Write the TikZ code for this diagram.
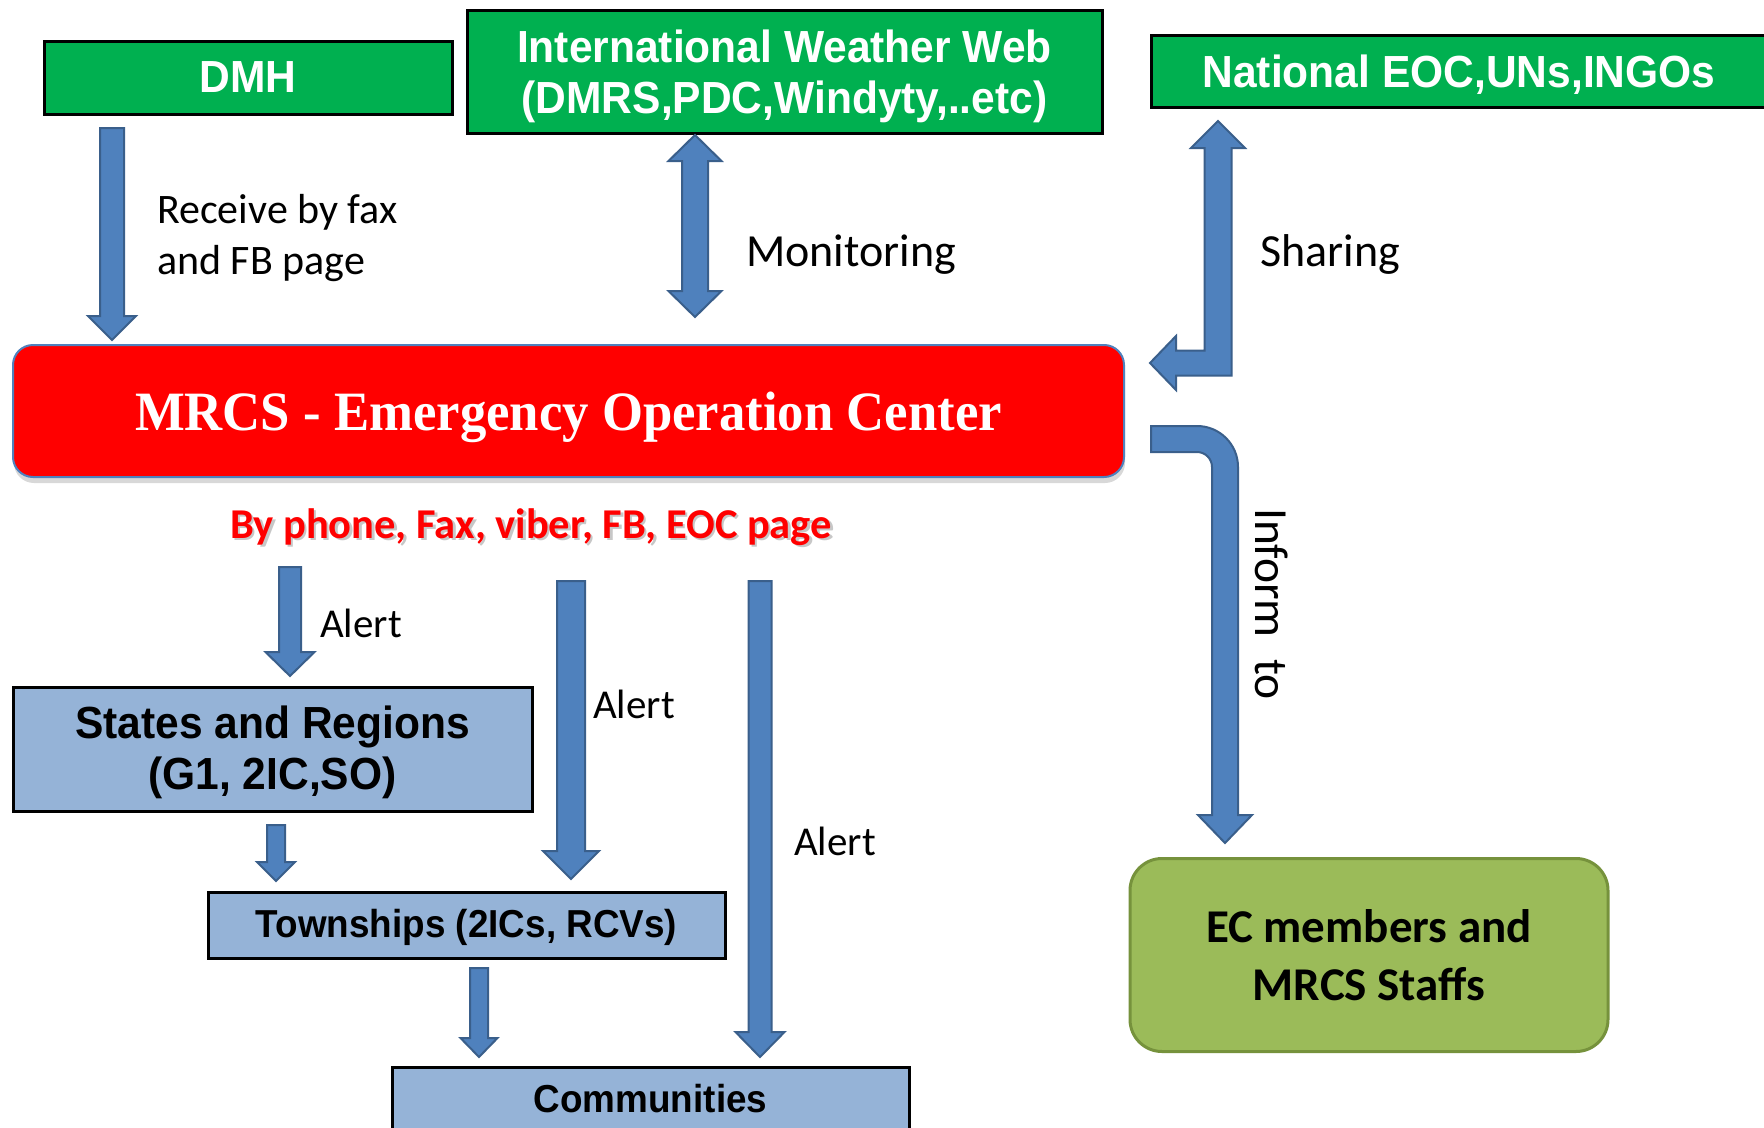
\documentclass[tikz,border=0pt]{standalone}
\usepackage{fontspec}
\setmainfont{Carlito}
\newfontfamily\arialfont{Liberation Sans}[FakeStretch=0.945]
\newfontfamily\timesfont{Liberation Serif}[FakeStretch=0.95]
\usetikzlibrary{calc,shadows}
\definecolor{boxgreen}{HTML}{00B050}
\definecolor{boxblue}{HTML}{95B3D7}
\definecolor{arrowfill}{HTML}{4F81BD}
\definecolor{arrowline}{HTML}{3A5F8B}
\definecolor{ecfill}{HTML}{9BBB59}
\definecolor{ecline}{HTML}{76923C}
\definecolor{eocred}{HTML}{FF0000}
\definecolor{eocline}{HTML}{4F81BD}
\newcommand\fsz[2]{\fontsize{#1}{#2}\selectfont}
\newcommand\vblockarrow[5]{\draw[blockarrow] let \p1=(#1), \p2=(#2) in
  (\x1-#3pt,\y1) -- (\x1+#3pt,\y1) -- (\x1+#3pt,\y2+#5pt) -- (\x1+#4pt,\y2+#5pt)
  -- (\x1,\y2) -- (\x1-#4pt,\y2+#5pt) -- (\x1-#3pt,\y2+#5pt) -- cycle;}
\newcommand\vdoubleblock[5]{\draw[blockarrow] let \p1=(#1), \p2=(#2) in
  (\x1,\y1) -- (\x1+#4pt,\y1-#5pt) -- (\x1+#3pt,\y1-#5pt) -- (\x1+#3pt,\y2+#5pt)
  -- (\x1+#4pt,\y2+#5pt) -- (\x1,\y2) -- (\x1-#4pt,\y2+#5pt) -- (\x1-#3pt,\y2+#5pt)
  -- (\x1-#3pt,\y1-#5pt) -- (\x1-#4pt,\y1-#5pt) -- cycle;}
\tikzset{
  greenbox/.style={draw=black, line width=3pt, fill=boxgreen, text=white,
    font=\arialfont\bfseries\fsz{45}{51}, align=center, inner sep=0pt},
  bluebox/.style={draw=black, line width=3pt, fill=boxblue, text=black,
    font=\arialfont\bfseries\fsz{45}{51}, align=center, inner sep=0pt},
  eocbox/.style={draw=eocline, line width=2pt, fill=eocred, text=white,
    rounded corners=20pt, font=\timesfont\bfseries\fsz{55.5}{60}, inner sep=0pt,
    drop shadow={opacity=0.3, shadow xshift=1pt, shadow yshift=-6pt}},
  ecbox/.style={draw=ecline, line width=3pt, fill=ecfill, text=black,
    rounded corners=32pt, font=\bfseries\fsz{47}{58}, align=center, inner sep=0pt},
  lbl/.style={font=\fsz{42}{51}, text=black, inner sep=0pt, align=left},
  blockarrow/.style={fill=arrowfill, draw=arrowline, line width=2pt, line join=miter}
}
\begin{document}
\begin{tikzpicture}[x=1pt,y=-1pt]
\useasboundingbox (0,0) rectangle (1764,1127);
\clip (0,0) rectangle (1764,1127);
\fill[white] (0,0) rectangle (1764,1127);

% boxes
\node[greenbox, minimum width=408, minimum height=73] (dmh) at (248,77.5) {DMH};
\node[greenbox, text depth=0pt, minimum width=635, minimum height=123] (iww) at (784.5,71.5)
  {International Weather Web\\(DMRS,PDC,Windyty,..etc)};
\node[greenbox, text depth=0pt, minimum width=616, minimum height=72] (nat) at (1459,71) {National EOC,UNs,INGOs};
\node[eocbox, text depth=0pt, minimum width=1111, minimum height=132] (eoc) at (568.5,411)
  {MRCS - Emergency Operation Center};
\node[font=\bfseries\fsz{42.5}{50}, text=black, opacity=0.22, inner sep=0pt] (viashadow) at (533.5,529.5)
  {By phone, Fax, viber, FB, EOC page};
\node[font=\bfseries\fsz{42.5}{50}, text=eocred, inner sep=0pt] (via) at (531,527)
  {By phone, Fax, viber, FB, EOC page};
\node[bluebox, text depth=3pt, minimum width=519, minimum height=124] (states) at (272.5,749)
  {States and Regions\\(G1, 2IC,SO)};
\node[bluebox, text depth=4pt, font=\arialfont\bfseries\fsz{39}{44}, minimum width=517, minimum height=66] (town) at (466.5,925)
  {Townships (2ICs, RCVs)};
\node[bluebox, font=\arialfont\bfseries\fsz{39}{44}, minimum width=517, minimum height=64] (comm) at (650.5,1099)
  {Communities};
\node[ecbox, minimum width=478, minimum height=193] (ec) at (1369,955)
  {EC members and\\MRCS Staffs};

% labels
\node[lbl, anchor=west] (lrecv) at (157,238) {Receive by fax\\and FB page};
\node[lbl, font=\fsz{46}{55}, anchor=west] (lmon) at (746,255) {Monitoring};
\node[lbl, font=\fsz{46}{55}, anchor=west] (lshare) at (1260,254) {Sharing};
\node[lbl, font=\fsz{47.5}{55}, rotate=-90] (linform) at (1272,604) {Inform\ \ to};
\node[lbl, font=\fsz{41}{50}, anchor=west] (lalert1) at (320,623) {Alert};
\node[lbl, font=\fsz{41}{50}, anchor=west] (lalert2) at (593,704) {Alert};
\node[lbl, font=\fsz{41}{50}, anchor=west] (lalert3) at (794,841) {Alert};

% arrow end points
\coordinate (dmhA) at (112,128);   \coordinate (dmhB) at (112,340);
\coordinate (monA) at (695,135);   \coordinate (monB) at (695,317);
\coordinate (shA) at (1218,121);   \coordinate (shB) at (1150,363);
\coordinate (infA) at (1151,439);  \coordinate (infB) at (1225,843);
\coordinate (al1A) at (290,567);   \coordinate (al1B) at (290,676);
\coordinate (al2A) at (571,581);   \coordinate (al2B) at (571,879);
\coordinate (al3A) at (760,581);   \coordinate (al3B) at (760,1057);
\coordinate (stA) at (276,825);    \coordinate (stB) at (276,881);
\coordinate (twA) at (479,968);    \coordinate (twB) at (479,1057);

% block arrows
\vblockarrow{dmhA}{dmhB}{12}{24}{24}
\vdoubleblock{monA}{monB}{13}{26.5}{26}
\draw[blockarrow] let \p1=(shA), \p2=(shB) in
  (\x1,\y1) -- (\x1+27pt,\y1-27pt) -- (\x1+13.5pt,\y1-27pt) -- (\x1+13.5pt,\y2-12.5pt)
  -- (\x2+26pt,\y2-12.5pt) -- (\x2+26pt,\y2-27pt) -- (\x2,\y2) -- (\x2+26pt,\y2+27pt)
  -- (\x2+26pt,\y2+12.5pt) -- (\x1-13.5pt,\y2+12.5pt) -- (\x1-13.5pt,\y1-27pt)
  -- (\x1-27pt,\y1-27pt) -- cycle;
\draw[blockarrow] let \p1=(infA), \p2=(infB) in
  (\x1,\y1+13pt) -- (\x2-28pt,\y1+13pt) arc[start angle=90, end angle=0, radius=41pt]
  -- (\x2+13pt,\y2+28pt) -- (\x2+27pt,\y2+28pt) -- (\x2,\y2) -- (\x2-27pt,\y2+28pt)
  -- (\x2-13pt,\y2+28pt) -- (\x2-13pt,\y1-28pt) arc[start angle=0, end angle=90, radius=15pt]
  -- (\x1,\y1-13pt) -- cycle;
\vblockarrow{al1A}{al1B}{11}{24.5}{24}
\vblockarrow{al2A}{al2B}{14}{28}{28}
\vblockarrow{al3A}{al3B}{11.5}{24.5}{25}
\vblockarrow{stA}{stB}{9}{19}{19}
\vblockarrow{twA}{twB}{9}{18.5}{19}
\end{tikzpicture}
\end{document}
